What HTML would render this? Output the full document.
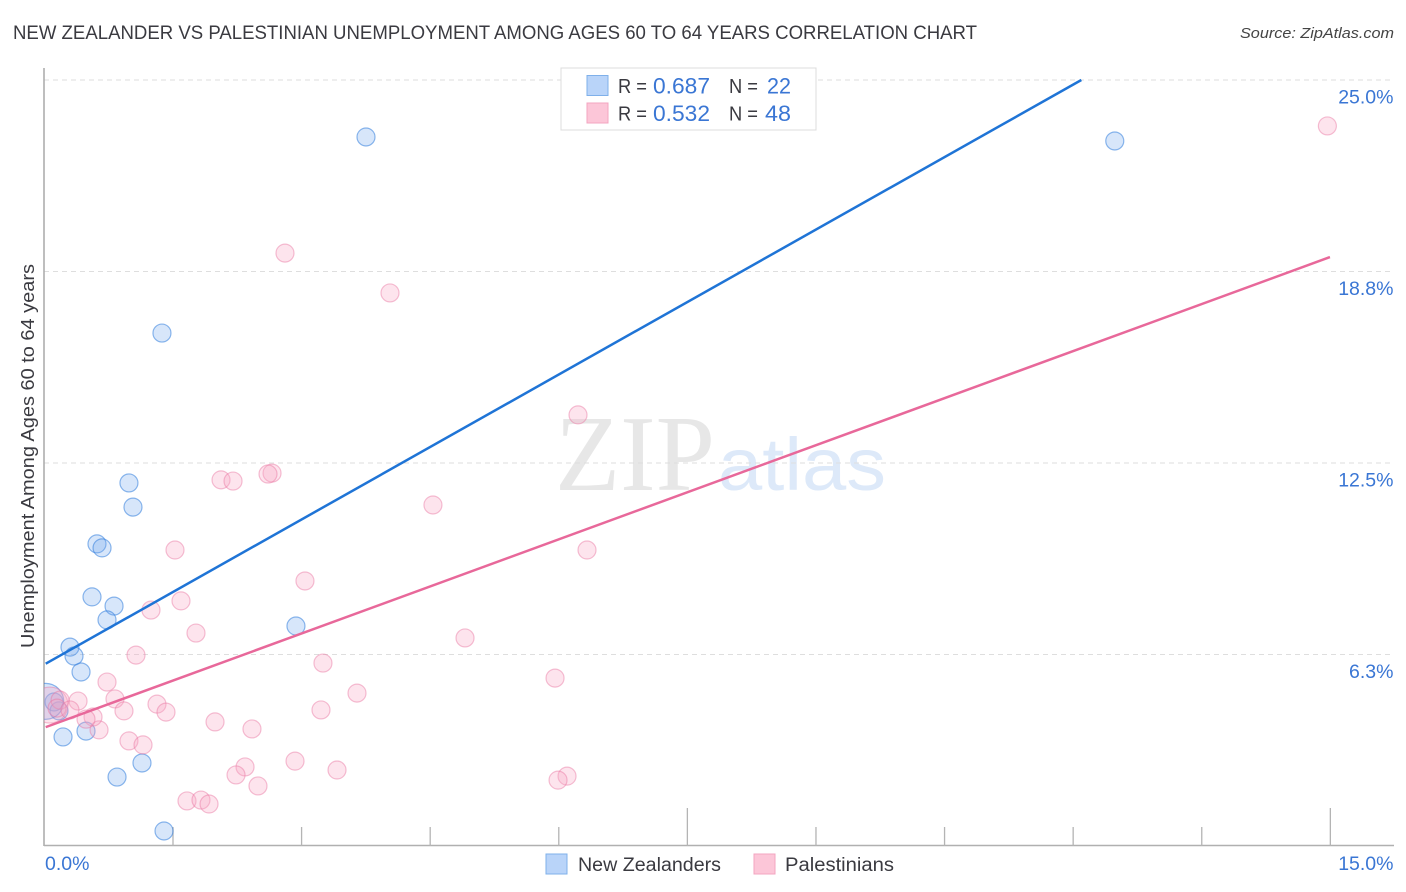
<!DOCTYPE html>
<html lang="en">
<head>
<meta charset="utf-8">
<title>New Zealander vs Palestinian Unemployment Correlation Chart</title>
<style>
html,body{margin:0;padding:0;background:#fff;width:1406px;height:892px;overflow:hidden}
svg{display:block}
text{font-family:"Liberation Sans",sans-serif}
</style>
</head>
<body>
<svg id="chart" width="1406" height="892" viewBox="0 0 1406 892" xmlns="http://www.w3.org/2000/svg">
  <defs><clipPath id="plot-clip"><rect x="44" y="68" width="1350" height="778"/></clipPath></defs>
  <text x="13" y="39" font-size="19" fill="#3a3a40" textLength="964" lengthAdjust="spacingAndGlyphs">NEW ZEALANDER VS PALESTINIAN UNEMPLOYMENT AMONG AGES 60 TO 64 YEARS CORRELATION CHART</text>
  <text x="1394" y="38" font-size="15" font-style="italic" fill="#444" text-anchor="end" textLength="154" lengthAdjust="spacingAndGlyphs">Source: ZipAtlas.com</text>
  <g>
    <text x="555" y="490" font-size="108" fill="#e7e7e7" textLength="160" lengthAdjust="spacingAndGlyphs" style="font-family:'Liberation Serif',serif">ZIP</text>
    <text x="718" y="490" font-size="74" fill="#dde9f9" textLength="168" lengthAdjust="spacingAndGlyphs">atlas</text>
  </g>
  <g id="grid"></g>
  <g id="axes"></g>
  <g id="points" clip-path="url(#plot-clip)"></g>
  <g id="trends"></g>
  <g id="labels"></g>
  <text transform="translate(34,456) rotate(-90)" font-size="18" fill="#3a3a40" text-anchor="middle" textLength="384" lengthAdjust="spacingAndGlyphs">Unemployment Among Ages 60 to 64 years</text>

  <g>
    <rect x="561" y="68" width="255" height="62" fill="#fff" stroke="#dcdcdc"/>
    <rect x="587" y="75.500" width="21" height="20" fill="#b9d4f9" stroke="#7fb0ea"/>
    <rect x="587" y="103" width="21" height="20" fill="#fcc6d8" stroke="#f3a5c0"/>
    <g font-size="20" fill="#3a3a40">
      <text x="618" y="93" textLength="29" lengthAdjust="spacingAndGlyphs">R =</text>
      <text x="729" y="93" textLength="29" lengthAdjust="spacingAndGlyphs">N =</text>
      <text x="618" y="120.500" textLength="29" lengthAdjust="spacingAndGlyphs">R =</text>
      <text x="729" y="120.500" textLength="29" lengthAdjust="spacingAndGlyphs">N =</text>
    </g>
    <g font-size="22" fill="#3a76d4">
      <text x="653" y="93.500" textLength="57" lengthAdjust="spacingAndGlyphs">0.687</text>
      <text x="767" y="93.500" textLength="24" lengthAdjust="spacingAndGlyphs">22</text>
      <text x="653" y="121" textLength="57" lengthAdjust="spacingAndGlyphs">0.532</text>
      <text x="765" y="121" textLength="26" lengthAdjust="spacingAndGlyphs">48</text>
    </g>
  </g>

  <g>
    <g>
      <rect x="546" y="854" width="21" height="20" fill="#b9d4f9" stroke="#7fb0ea"/>
      <text x="578" y="871" font-size="19" fill="#3a3a40" textLength="143" lengthAdjust="spacingAndGlyphs">New Zealanders</text>
    </g>
    <g>
      <rect x="754" y="854" width="21" height="20" fill="#fcc6d8" stroke="#f3a5c0"/>
      <text x="785" y="871" font-size="19" fill="#3a3a40" textLength="109" lengthAdjust="spacingAndGlyphs">Palestinians</text>
    </g>
  </g>
</svg>
<script>
const blueX = [3.756,12.49,1.376,0.991,1.038,0.618,0.677,0.560,0.817,0.735,2.939,0.303,0.350,0.432,0.117,0.175,0.222,0.490,1.143,0.852,1.400,0.02];
const blueY = [23.14,23.01,16.74,11.85,11.06,9.86,9.73,8.13,7.83,7.38,7.18,6.49,6.20,5.68,4.70,4.41,3.56,3.75,2.71,2.25,0.49,4.72];
const blueWeight = [1,1,1,1,1,1,1,1,1,1,1,1,1,1,1,1,1,1,1,1,1,2];
const pinkX = [14.97,2.811,4.036,6.229,4.537,2.660,2.613,2.065,2.205,1.528,6.334,3.044,1.598,1.248,1.773,4.911,1.073,3.254,5.961,0.735,3.651,0.828,0.397,1.318,3.231,1.423,0.933,1.995,2.426,0.642,0.572,0.490,0.991,1.155,2.928,3.418,2.345,2.240,2.496,6.101,5.996,1.668,1.831,1.925,0.07,0.187,0.152,0.303];
const pinkY = [23.50,19.35,18.05,14.07,11.13,12.17,12.14,11.95,11.91,9.66,9.66,8.65,8.00,7.70,6.95,6.79,6.23,5.97,5.48,5.35,4.99,4.80,4.73,4.63,4.44,4.37,4.41,4.05,3.82,3.79,4.21,4.14,3.43,3.30,2.77,2.48,2.58,2.32,1.96,2.28,2.15,1.47,1.50,1.37,4.60,4.76,4.50,4.44];
const pinkWeight = [1,1,1,1,1,1,1,1,1,1,1,1,1,1,1,1,1,1,1,1,1,1,1,1,1,1,1,1,1,1,1,1,1,1,1,1,1,1,1,1,1,1,1,1,2,1,1,1];
const blueTrendX = [0.02,12.10];
const blueTrendY = [5.95,25.0];
const pinkTrendX = [0.02,15.0];
const pinkTrendY = [3.88,19.22];
const yTicks = [25.0,18.75,12.5,6.25];
const yTickLabels = ["25.0%","18.8%","12.5%","6.3%"];
const xTicks = [1.5,3,4.5,6,7.5,9,10.5,12,13.5,15];
const xMajorTicks = [7.5,15];
const xEndTicks = [0,15];
const xEndLabels = ["0.0%","15.0%"];

const NS = "http://www.w3.org/2000/svg";
const xScale = v => 44 + v * 85.73;
const yScale = v => 846 - v * 30.64;
const rScale = w => 9 * w;

function make(tag, attrs, parent){
  const el = document.createElementNS(NS, tag);
  for (const k in attrs) el.setAttribute(k, attrs[k]);
  parent.appendChild(el);
  return el;
}
const gGrid = document.getElementById("grid");
const gAxes = document.getElementById("axes");
const gPoints = document.getElementById("points");
const gTrends = document.getElementById("trends");
const gLabels = document.getElementById("labels");

yTicks.forEach((t, i) => {
  const line = make("line", {x1:44, x2:1394, y1:yScale(t), y2:yScale(t), stroke:"#dedede", "stroke-width":1, "stroke-dasharray":"5 4"}, gGrid);
  
  
  const label = make("text", {x:1393.500, y:yScale(t) + 23.500, "font-size":19.500, fill:"#3a76d4", "text-anchor":"end"}, gLabels);
  label.textContent = yTickLabels[i];
  
  
});

const yAxis = make("line", {x1:44, x2:44, y1:68, y2:846, stroke:"#a8a8a8", "stroke-width":1.500}, gAxes);


const xAxis = make("line", {x1:44, x2:1394, y1:845.500, y2:845.500, stroke:"#b0b0b0", "stroke-width":1.500}, gAxes);



xTicks.forEach(t => {
  const top = xMajorTicks.includes(t) ? 808 : 827;
  const tick = make("line", {x1:xScale(t) + 0.400, x2:xScale(t) + 0.400, y1:top, y2:846, stroke:"#b4b4b4", "stroke-width":1.300}, gAxes);
  
  
});

xEndTicks.forEach((t, i) => {
  const label = make("text", {x: i === 0 ? xScale(t) + 1 : 1393.500, y:870, "font-size":19.500, fill:"#3a76d4", "text-anchor": i === 0 ? "start" : "end"}, gLabels);
  label.textContent = xEndLabels[i];
  
  
});

blueX.forEach((v, i) => {
  const c = make("circle", {cx:xScale(v), cy:yScale(blueY[i]), r:rScale(blueWeight[i]), fill:"rgba(110,165,238,0.28)", stroke:"rgba(50,125,220,0.55)", "stroke-width":1.200}, gPoints);
  
  
});
pinkX.forEach((v, i) => {
  const c = make("circle", {cx:xScale(v), cy:yScale(pinkY[i]), r:rScale(pinkWeight[i]), fill:"rgba(248,165,195,0.30)", stroke:"rgba(232,115,160,0.45)", "stroke-width":1.200}, gPoints);
  
  
});

const blueTrend = make("line", {x1:xScale(blueTrendX[0]), y1:yScale(blueTrendY[0]), x2:xScale(blueTrendX[1]), y2:yScale(blueTrendY[1]), stroke:"#1f74d6", "stroke-width":2.500}, gTrends);


const pinkTrend = make("line", {x1:xScale(pinkTrendX[0]), y1:yScale(pinkTrendY[0]), x2:xScale(pinkTrendX[1]), y2:yScale(pinkTrendY[1]), stroke:"#e8689a", "stroke-width":2.500}, gTrends);


</script>
</body>
</html>
